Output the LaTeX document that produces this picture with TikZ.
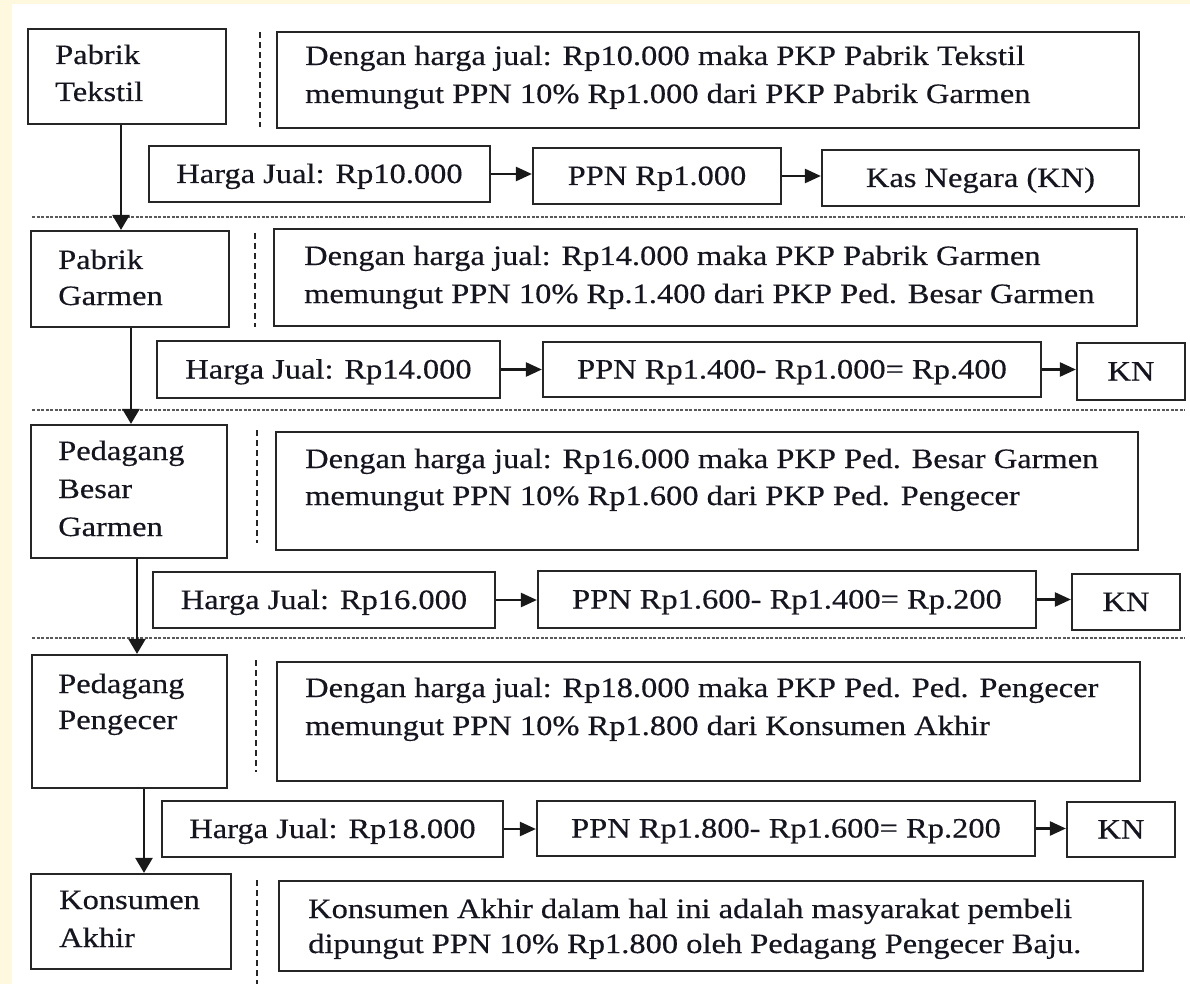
\documentclass[tikz,border=0pt]{standalone}
\usepackage{fontspec}
\setmainfont{Liberation Serif}[FakeStretch=1.16, FakeBold=0.4]
\usetikzlibrary{arrows.meta}
\definecolor{pagebg}{HTML}{FEF8DF}
\definecolor{ink}{HTML}{15151F}
% box given by its corners: name, x1, y1, x2, y2, text
\newcommand\mkbox[6]{%
  \node[box, minimum width={(#4-#2)*1pt}, minimum height={(#5-#3)*1pt}]
    (#1) at ({(#2+#4)/2},{(#3+#5)/2}) {#6};}
\begin{document}
\begin{tikzpicture}[x=1pt,y=-1pt,
  box/.style={draw=black!85, line width=2.2pt, fill=white, inner sep=0pt,
    text height=20pt, text depth=2pt,
    text=ink, font=\fontsize{28}{34}\selectfont},
  txt/.style={inner sep=0pt, text=ink, font=\fontsize{28}{34}\selectfont, anchor=base west},
  flow/.style={draw=black!90, line width=2.4pt, -{Triangle[length=15pt,width=17pt]}},
  hflow/.style={draw=black!90, line width=2.4pt, -{Triangle[length=16pt,width=14pt]}},
  rowsep/.style={draw=black!65, line width=2.4pt, dash pattern=on 3pt off 1.5pt},
  colsep/.style={draw=black!85, line width=2.8pt, dash pattern=on 6pt off 4pt}]
\useasboundingbox (0,0) rectangle (1190,984);
\fill[pagebg] (0,0) rectangle (1190,984);
\fill[white] (12,4) rectangle (1190,984);

% ---------- Pabrik Tekstil ----------
\mkbox{L1}{28}{29}{226}{124}{}
\node[txt] (l1a) at (55,64) {Pabrik};
\node[txt] (l1b) at (55,101) {Tekstil};
\draw[colsep] (260,32) -- (260,127);
\mkbox{D1}{277}{32}{1139}{128}{}
\node[txt] (d1a) at (305,65) {Dengan harga jual: Rp10.000 maka PKP Pabrik Tekstil};
\node[txt] (d1b) at (305,103) {memungut PPN 10\% Rp1.000 dari PKP Pabrik Garmen};
\mkbox{H1}{149}{146}{490}{202}{Harga Jual: Rp10.000}
\mkbox{P1}{533}{148}{781}{204}{PPN Rp1.000}
\mkbox{K1}{822}{150}{1139}{206}{Kas Negara (KN)}
\draw[rowsep] (32,217) -- (1185,217);

% ---------- Pabrik Garmen ----------
\mkbox{L2}{31}{231}{229}{327}{}
\node[txt] (l2a) at (58,269) {Pabrik};
\node[txt] (l2b) at (58,305) {Garmen};
\draw[colsep] (255,233) -- (255,327);
\mkbox{D2}{274}{229}{1137}{326}{}
\node[txt] (d2a) at (304,265) {Dengan harga jual: Rp14.000 maka PKP Pabrik Garmen};
\node[txt] (d2b) at (304,303) {memungut PPN 10\% Rp.1.400 dari PKP Ped. Besar Garmen};
\mkbox{H2}{157}{341}{500}{398}{Harga Jual: Rp14.000}
\mkbox{P2}{543}{342}{1041}{397}{PPN Rp1.400- Rp1.000= Rp.400}
\mkbox{K2}{1077}{343}{1185}{400}{KN}
\draw[rowsep] (32,410) -- (1185,410);

% ---------- Pedagang Besar Garmen ----------
\mkbox{L3}{31}{425}{227}{558}{}
\node[txt] (l3a) at (58,460) {Pedagang};
\node[txt] (l3b) at (58,498) {Besar};
\node[txt] (l3c) at (58,536) {Garmen};
\draw[colsep] (257,430) -- (257,543);
\mkbox{D3}{276}{432}{1138}{550}{}
\node[txt] (d3a) at (305,468) {Dengan harga jual: Rp16.000 maka PKP Ped. Besar Garmen};
\node[txt] (d3b) at (305,505) {memungut PPN 10\% Rp1.600 dari PKP Ped. Pengecer};
\mkbox{H3}{153}{572}{495}{628}{Harga Jual: Rp16.000}
\mkbox{P3}{538}{571}{1036}{628}{PPN Rp1.600- Rp1.400= Rp.200}
\mkbox{K3}{1072}{574}{1180}{630}{KN}
\draw[rowsep] (32,638) -- (1185,638);

% ---------- Pedagang Pengecer ----------
\mkbox{L4}{32}{655}{227}{788}{}
\node[txt] (l4a) at (58,693) {Pedagang};
\node[txt] (l4b) at (58,729) {Pengecer};
\draw[colsep] (256,660) -- (256,772);
\mkbox{D4}{277}{662}{1140}{781}{}
\node[txt] (d4a) at (305,697) {Dengan harga jual: Rp18.000 maka PKP Ped. Ped. Pengecer};
\node[txt] (d4b) at (305,735) {memungut PPN 10\% Rp1.800 dari Konsumen Akhir};
\mkbox{H4}{162}{801}{503}{857}{Harga Jual: Rp18.000}
\mkbox{P4}{537}{801}{1035}{856}{PPN Rp1.800- Rp1.600= Rp.200}
\mkbox{K4}{1067}{802}{1175}{857}{KN}

% ---------- Konsumen Akhir ----------
\mkbox{L5}{31}{874}{231}{969}{}
\node[txt] (l5a) at (59,909) {Konsumen};
\node[txt] (l5b) at (59,947) {Akhir};
\draw[colsep] (257,880) -- (257,984);
\mkbox{D5}{279}{881}{1143}{971}{}
\node[txt] (d5a) at (308,918) {Konsumen Akhir dalam hal ini adalah masyarakat pembeli};
\node[txt] (d5b) at (308,953) {dipungut PPN 10\% Rp1.800 oleh Pedagang Pengecer Baju.};

% ---------- flow between the parties ----------
\draw[flow] ([xshift=-6pt]L1.south) -- ([xshift=-6pt]L1.south |- L2.north);
\draw[flow] ([xshift=1pt]L2.south) -- ([xshift=1pt]L2.south |- L3.north);
\draw[flow] ([xshift=8pt]L3.south) -- ([xshift=8pt]L3.south |- L4.north);
\draw[flow] ([xshift=14.5pt]L4.south) -- ([xshift=14.5pt]L4.south |- L5.north);

% ---------- price -> tax -> treasury ----------
\foreach \r in {1,2,3,4}{
  \draw[hflow] (H\r.east) -- (H\r.east -| P\r.west);
  \draw[hflow] (P\r.east) -- (P\r.east -| K\r.west);
}
\end{tikzpicture}
\end{document}
